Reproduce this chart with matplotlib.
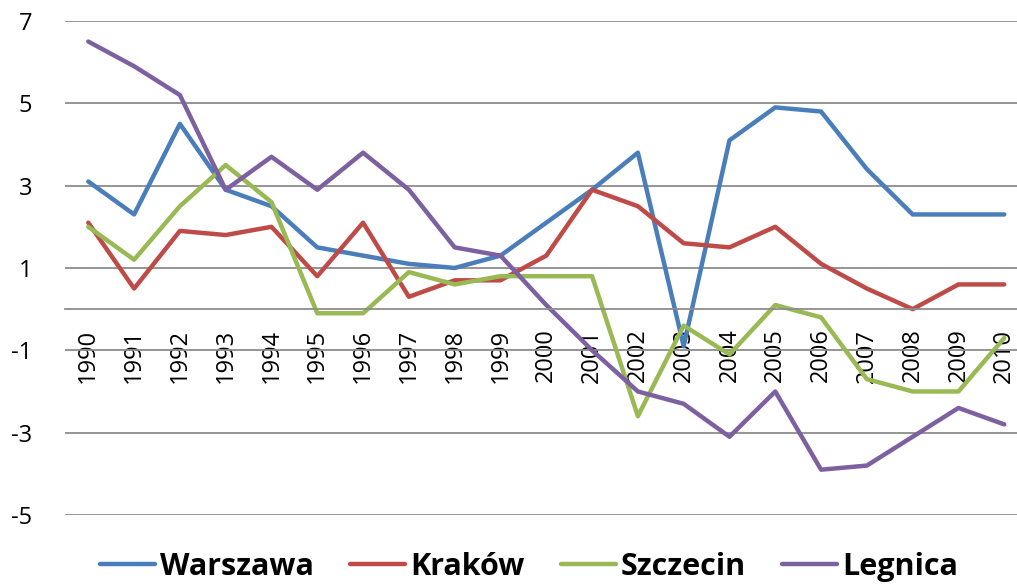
import matplotlib
matplotlib.use("Agg")
import matplotlib.pyplot as plt

lata = [str(r) for r in range(1990, 2011)]
warszawa = [3.1, 2.3, 4.5, 2.9, 2.5, 1.5, 1.3, 1.1, 1.0, 1.3, 2.1, 2.9, 3.8, -0.9,
            4.1, 4.9, 4.8, 3.4, 2.3, 2.3, 2.3]
krakow = [2.1, 0.5, 1.9, 1.8, 2.0, 0.8, 2.1, 0.3, 0.7, 0.7, 1.3, 2.9, 2.5, 1.6,
          1.5, 2.0, 1.1, 0.5, 0.0, 0.6, 0.6]
szczecin = [2.0, 1.2, 2.5, 3.5, 2.6, -0.1, -0.1, 0.9, 0.6, 0.8, 0.8, 0.8, -2.6, -0.4,
            -1.1, 0.1, -0.2, -1.7, -2.0, -2.0, -0.7]
legnica = [6.5, 5.9, 5.2, 2.9, 3.7, 2.9, 3.8, 2.9, 1.5, 1.3, 0.1, -1.0, -2.0, -2.3,
           -3.1, -2.0, -3.9, -3.8, -3.1, -2.4, -2.8]

serie = [("Warszawa", warszawa, "#4a7ebb"),
         ("Kraków", krakow, "#be4b48"),
         ("Szczecin", szczecin, "#98b954"),
         ("Legnica", legnica, "#7d60a0")]

plt.rcParams['font.family'] = ['Open Sans', 'DejaVu Sans']

fig = plt.figure(figsize=(10.17, 5.87), dpi=100)
ax = fig.add_axes([0.0643, 0.1227, 0.9457, 0.8416])

# os x na wysokosci 0 (jak w Excelu)
ax.spines['bottom'].set_position(('data', 0))
ax.spines['bottom'].set_color("#8c8c8c")
ax.spines['bottom'].set_linewidth(1.3)
for s in ['top', 'right', 'left']:
    ax.spines[s].set_visible(False)

x = list(range(len(lata)))
for nazwa, wart, kolor in serie:
    ax.plot(x, wart, color=kolor, lw=3.2, label=nazwa,
            solid_joinstyle='round', solid_capstyle='round')

ax.set_xlim(-0.5, len(lata) - 0.5)
ax.set_ylim(-5, 7)
ax.set_yticks([-5, -3, -1, 1, 3, 5, 7])
ax.set_yticklabels(["-5", "-3", "-1", "1", "3", "5", "7"])
ax.yaxis.grid(True, color="#8c8c8c", lw=1.3)
ax.set_axisbelow(True)

ax.set_xticks(x)
ax.set_xticklabels(lata)
ax.tick_params(axis='y', length=0, pad=24, labelsize=17)
ax.tick_params(axis='x', length=0, pad=14, labelsize=17, labelrotation=90)
for t in ax.get_xticklabels():
    t.set_va('top')

fig.legend(loc='center', bbox_to_anchor=(0.52, 0.034), ncol=4, frameon=False,
           prop={'weight': 'bold', 'size': 22}, handlelength=1.8,
           handletextpad=0.15, columnspacing=1.2)

fig.savefig("out.png", dpi=100)
